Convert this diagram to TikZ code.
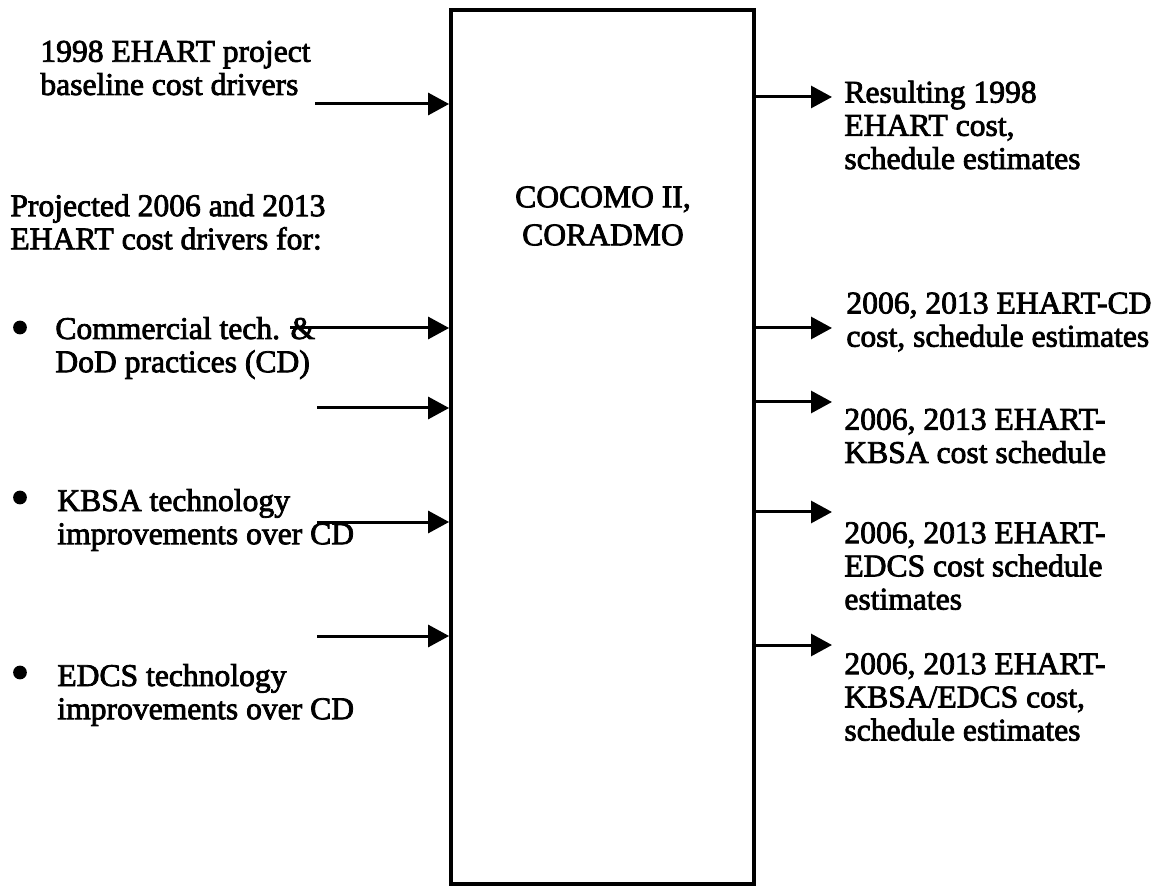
\documentclass[tikz,border=0pt]{standalone}
\usepackage{fontspec}
\setmainfont{Liberation Serif}
\newfontfamily\heavyserif{Liberation Serif}[FakeBold=2.5]
\usetikzlibrary{arrows.meta}
\begin{document}
\begin{tikzpicture}[x=0.5pt,y=-0.5pt,
  arr/.style={line width=1.5pt,-{Triangle[length=10.5pt,width=11pt]}},
  lbl/.style={anchor=west,align=left,inner sep=0pt,font=\heavyserif\fontsize{15.8pt}{16.6pt}\selectfont},
  bul/.style={anchor=center,inner sep=0pt,font=\heavyserif\fontsize{26pt}{26pt}\selectfont}]
\useasboundingbox (0,0) rectangle (1165,886);
% main box
\node[draw,line width=1.9pt,minimum width=151.5pt,minimum height=437pt,inner sep=0pt] (box) at (602.5,447) {};
\node[align=center,inner sep=0pt,font=\heavyserif\fontsize{15.8pt}{19pt}\selectfont] (model) at (603,216) {COCOMO II,\\CORADMO};
% left texts
\node[lbl] (t1) at (40,68) {1998 EHART project\\baseline cost drivers};
\node[lbl] (t2) at (10,222) {Projected 2006 and 2013\\EHART cost drivers for:};
\node[bul] (b1) at (20,333) {•};
\node[lbl] (t3) at (55,348) {Commercial tech. \&\\DoD practices (CD)};
\node[bul] (b2) at (20,503) {•};
\node[lbl] (t4) at (57,520) {KBSA technology\\improvements over CD};
\node[bul] (b3) at (20,678) {•};
\node[lbl] (t5) at (57,695) {EDCS technology\\improvements over CD};
% right texts
\node[lbl] (r1) at (844,125) {Resulting 1998\\EHART cost,\\schedule estimates};
\node[lbl] (r2) at (846,322) {2006, 2013 EHART-CD\\cost, schedule estimates};
\node[lbl] (r3) at (844,436) {2006, 2013 EHART-\\KBSA cost schedule};
\node[lbl] (r4) at (844,566) {2006, 2013 EHART-\\EDCS cost schedule\\estimates};
\node[lbl] (r5) at (844,697) {2006, 2013 EHART-\\KBSA/EDCS cost,\\schedule estimates};
% input arrows
\coordinate (s1) at (315,104);
\coordinate (s2) at (290,328);
\coordinate (s3) at (317,408);
\coordinate (s4) at (317,522);
\coordinate (s5) at (317,636);
\foreach \s in {s1,s2,s3,s4,s5} \draw[arr] (\s) -- (\s -| box.west);
% output arrows
\coordinate (e1) at (832,97);
\coordinate (e2) at (832,328);
\coordinate (e3) at (832,402);
\coordinate (e4) at (832,512);
\coordinate (e5) at (832,645);
\foreach \e in {e1,e2,e3,e4,e5} \draw[arr] (\e -| box.east) -- (\e);
\end{tikzpicture}
\end{document}
